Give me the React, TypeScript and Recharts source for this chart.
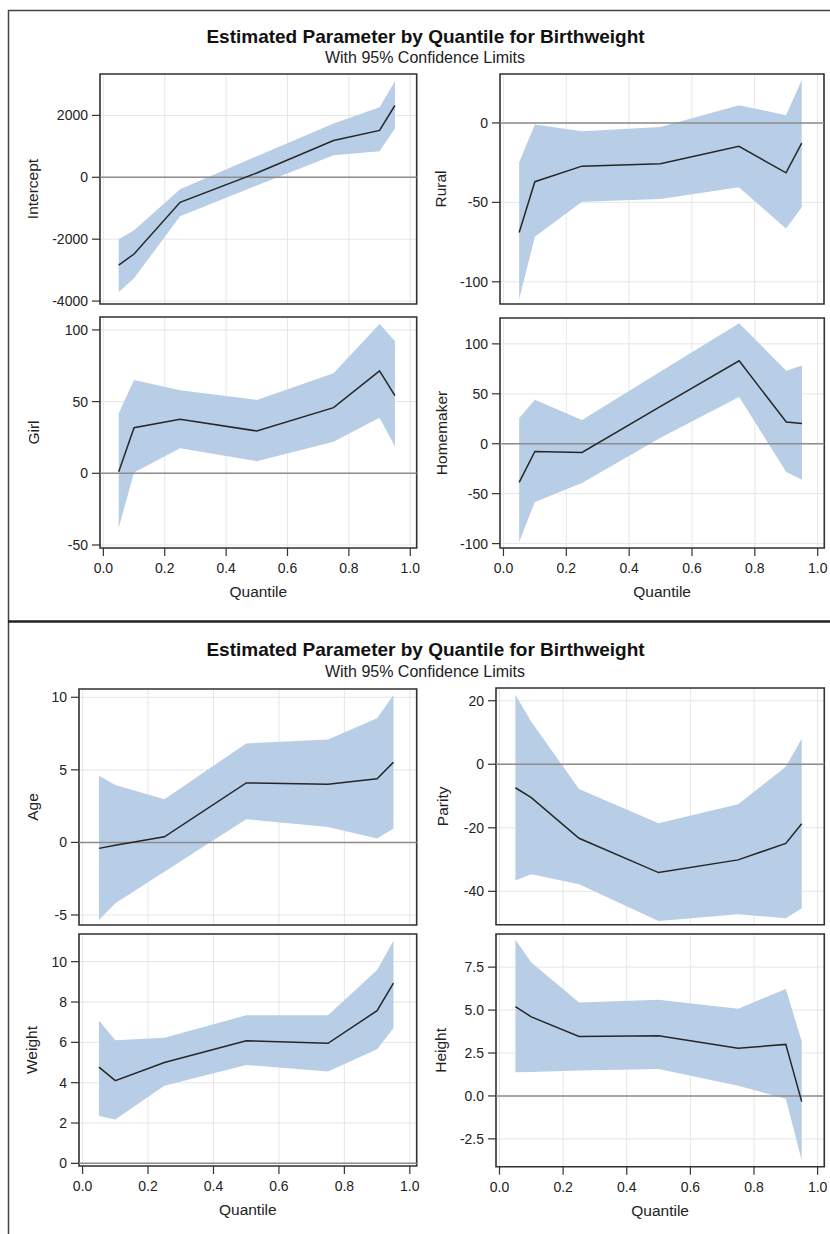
import React from 'react'
import { ComposedChart, Area, Line, XAxis, YAxis, CartesianGrid, ReferenceLine, ReferenceArea } from 'recharts'

// quantile levels shared by every panel
const QUANTILES = [0.05, 0.1, 0.25, 0.5, 0.75, 0.9, 0.95]
const X_TICKS = [0, 0.2, 0.4, 0.6, 0.8, 1.0]
const X_DOMAIN: [number, number] = [-0.011, 1.021]

const TITLE = 'Estimated Parameter by Quantile for Birthweight'
const SUBTITLE = 'With 95% Confidence Limits'

const INTERCEPT_EST = [-2840, -2480, -810, 140, 1190, 1515, 2320]
const INTERCEPT_LO = [-3710, -3260, -1260, -265, 710, 840, 1580]
const INTERCEPT_HI = [-2000, -1710, -390, 680, 1740, 2260, 3100]

const RURAL_EST = [-69, -37, -27.2, -25.7, -14.7, -31.4, -12.7]
const RURAL_LO = [-111, -71.7, -49.6, -47.9, -40.5, -66.5, -53.2]
const RURAL_HI = [-24.7, -1, -5.3, -2.5, 11.2, 4.9, 27]

const GIRL_EST = [1.1, 31.8, 37.7, 29.5, 45.8, 71.4, 54.2]
const GIRL_LO = [-37.9, 0.5, 17.4, 8.4, 22, 38.8, 18.6]
const GIRL_HI = [41.8, 65, 58, 51.2, 69.8, 104.1, 92.2]

const HOMEMAKER_EST = [-38.7, -7.7, -8.7, 37.4, 83, 21.7, 20.3]
const HOMEMAKER_LO = [-98.3, -58.3, -39.3, 6, 46.7, -28.3, -36]
const HOMEMAKER_HI = [25.7, 44, 23.7, 72.3, 120.7, 73, 78.3]

const AGE_EST = [-0.41, -0.2, 0.39, 4.1, 4.01, 4.38, 5.53]
const AGE_LO = [-5.35, -4.2, -2.02, 1.6, 1.07, 0.27, 0.96]
const AGE_HI = [4.59, 3.95, 2.98, 6.82, 7.09, 8.55, 10.16]

const PARITY_EST = [-7.4, -10.5, -23.3, -34.1, -30.1, -24.9, -18.7]
const PARITY_LO = [-36.6, -34.6, -37.8, -49.3, -47.2, -48.5, -45.3]
const PARITY_HI = [21.9, 13.4, -7.8, -18.6, -12.6, -0.8, 8.0]

const WEIGHT_EST = [4.77, 4.1, 5.0, 6.08, 5.95, 7.57, 8.93]
const WEIGHT_LO = [2.35, 2.18, 3.85, 4.88, 4.55, 5.66, 6.7]
const WEIGHT_HI = [7.08, 6.1, 6.23, 7.34, 7.34, 9.58, 11.04]

const HEIGHT_EST = [5.2, 4.6, 3.46, 3.51, 2.78, 3.0, -0.33]
const HEIGHT_LO = [1.38, 1.4, 1.48, 1.57, 0.6, -0.17, -3.76]
const HEIGHT_HI = [9.09, 7.77, 5.44, 5.6, 5.08, 6.23, 3.18]

const FONT = '"Liberation Sans", Arial, sans-serif'
const BAND = '#b8cee6'
const YW = 100
const MT = 10
const MR = 10
const XH = 60

interface Frame { x: number; y: number; w: number; h: number }

interface PlotProps {
  label: string
  est: number[]
  lo: number[]
  hi: number[]
  yDomain: [number, number]
  yTicks: number[]
  fmt?: (v: number) => string
  frame: Frame
  labelX: number
  showX: boolean
}

function QuantilePlot({ label, est, lo, hi, yDomain, yTicks, fmt, frame, labelX, showX }: PlotProps) {
  const data = QUANTILES.map((q, i) => ({ q, est: est[i], band: [lo[i], hi[i]] }))
  const width = YW + frame.w + MR
  const height = MT + frame.h + (showX ? XH : MT)
  const left = frame.x - YW

  return (
    <div style={{ position: 'absolute', left, top: frame.y - MT }}>
      <ComposedChart
        width={width}
        height={height}
        data={data}
        margin={{ top: MT, right: MR, left: 0, bottom: showX ? 0 : MT }}
        style={{ fontFamily: FONT }}
      >
        <CartesianGrid stroke="#e6e6e6" strokeWidth={1} />
        <XAxis
          type="number"
          dataKey="q"
          domain={X_DOMAIN}
          ticks={X_TICKS}
          interval={0}
          allowDataOverflow
          hide={!showX}
          height={XH}
          tickFormatter={(v: number) => v.toFixed(1)}
          tickSize={8}
          tickMargin={7}
          axisLine={false}
          tickLine={{ stroke: '#333', strokeWidth: 1.2 }}
          tick={{ fill: '#222', fontSize: 14 }}
          label={{ value: 'Quantile', position: 'insideBottom', offset: 11, fill: '#222', fontSize: 15.5 }}
        />
        <YAxis
          type="number"
          domain={yDomain}
          ticks={yTicks}
          interval={0}
          allowDataOverflow
          width={YW}
          tickFormatter={fmt}
          tickSize={8}
          tickMargin={4}
          axisLine={false}
          tickLine={{ stroke: '#333', strokeWidth: 1.2 }}
          tick={{ fill: '#222', fontSize: 14 }}
          label={{
            value: label,
            angle: -90,
            position: 'insideLeft',
            offset: labelX - left,
            fill: '#222',
            fontSize: 15.5,
            style: { textAnchor: 'middle' },
          }}
        />
        <Area
          dataKey="band"
          type="linear"
          fill={BAND}
          fillOpacity={1}
          stroke="none"
          activeDot={false}
          isAnimationActive={false}
        />
        <ReferenceLine y={0} stroke="#8c8c8c" strokeWidth={1.5} />
        <Line
          dataKey="est"
          type="linear"
          stroke="#262626"
          strokeWidth={1.5}
          dot={false}
          activeDot={false}
          isAnimationActive={false}
        />
        <ReferenceArea
          x1={X_DOMAIN[0]}
          x2={X_DOMAIN[1]}
          y1={yDomain[0]}
          y2={yDomain[1]}
          fill="none"
          fillOpacity={0}
          stroke="#333"
          strokeWidth={1.6}
          ifOverflow="visible"
        />
      </ComposedChart>
    </div>
  )
}

const oneDecimal = (v: number) => v.toFixed(1)

export default function App() {
  return (
    <div style={{ position: 'absolute', left: 0, top: 0, width: 830, height: 1234, background: '#fff', fontFamily: FONT }}>
      <svg width={830} height={1234} style={{ position: 'absolute', left: 0, top: 0 }}>
        <line x1={8} y1={10.5} x2={830} y2={10.5} stroke="#444" strokeWidth={1.5} />
        <line x1={8.5} y1={10} x2={8.5} y2={1234} stroke="#444" strokeWidth={1.5} />
        <line x1={8} y1={621.5} x2={830} y2={621.5} stroke="#222" strokeWidth={2.5} />
        <text x={425.5} y={42.7} textAnchor="middle" fontWeight="bold" fontSize={19} fill="#111" fontFamily={FONT}>{TITLE}</text>
        <text x={425} y={63.3} textAnchor="middle" fontSize={16} fill="#222" fontFamily={FONT}>{SUBTITLE}</text>
        <text x={425.5} y={655.7} textAnchor="middle" fontWeight="bold" fontSize={19} fill="#111" fontFamily={FONT}>{TITLE}</text>
        <text x={425} y={676.7} textAnchor="middle" fontSize={16} fill="#222" fontFamily={FONT}>{SUBTITLE}</text>
      </svg>

      <QuantilePlot label="Intercept" est={INTERCEPT_EST} lo={INTERCEPT_LO} hi={INTERCEPT_HI}
        yDomain={[-4094, 3338]} yTicks={[-4000, -2000, 0, 2000]}
        frame={{ x: 100, y: 74, w: 316.7, h: 230 }} labelX={33} showX={false} />
      <QuantilePlot label="Rural" est={RURAL_EST} lo={RURAL_LO} hi={RURAL_HI}
        yDomain={[-114, 30.8]} yTicks={[-100, -50, 0]}
        frame={{ x: 500, y: 74, w: 324, h: 230 }} labelX={440} showX={false} />
      <QuantilePlot label="Girl" est={GIRL_EST} lo={GIRL_LO} hi={GIRL_HI}
        yDomain={[-52.1, 109]} yTicks={[-50, 0, 50, 100]}
        frame={{ x: 100, y: 317, w: 316.7, h: 231 }} labelX={34} showX />
      <QuantilePlot label="Homemaker" est={HOMEMAKER_EST} lo={HOMEMAKER_LO} hi={HOMEMAKER_HI}
        yDomain={[-104.4, 125.9]} yTicks={[-100, -50, 0, 50, 100]}
        frame={{ x: 500, y: 318.3, w: 324.3, h: 230 }} labelX={441} showX />

      <QuantilePlot label="Age" est={AGE_EST} lo={AGE_LO} hi={AGE_HI}
        yDomain={[-5.69, 10.57]} yTicks={[-5, 0, 5, 10]}
        frame={{ x: 79, y: 689, w: 337.7, h: 236 }} labelX={32.5} showX={false} />
      <QuantilePlot label="Parity" est={PARITY_EST} lo={PARITY_LO} hi={PARITY_HI}
        yDomain={[-50.5, 24]} yTicks={[-40, -20, 0, 20]}
        frame={{ x: 496, y: 688.3, w: 328.3, h: 236.7 }} labelX={442} showX={false} />
      <QuantilePlot label="Weight" est={WEIGHT_EST} lo={WEIGHT_LO} hi={WEIGHT_HI}
        yDomain={[-0.13, 11.37]} yTicks={[0, 2, 4, 6, 8, 10]}
        frame={{ x: 79, y: 934, w: 337.7, h: 232 }} labelX={32} showX />
      <QuantilePlot label="Height" est={HEIGHT_EST} lo={HEIGHT_LO} hi={HEIGHT_HI}
        yDomain={[-4.12, 9.43]} yTicks={[-2.5, 0, 2.5, 5, 7.5]} fmt={oneDecimal}
        frame={{ x: 496, y: 934, w: 328.3, h: 232.7 }} labelX={440} showX />
    </div>
  )
}
